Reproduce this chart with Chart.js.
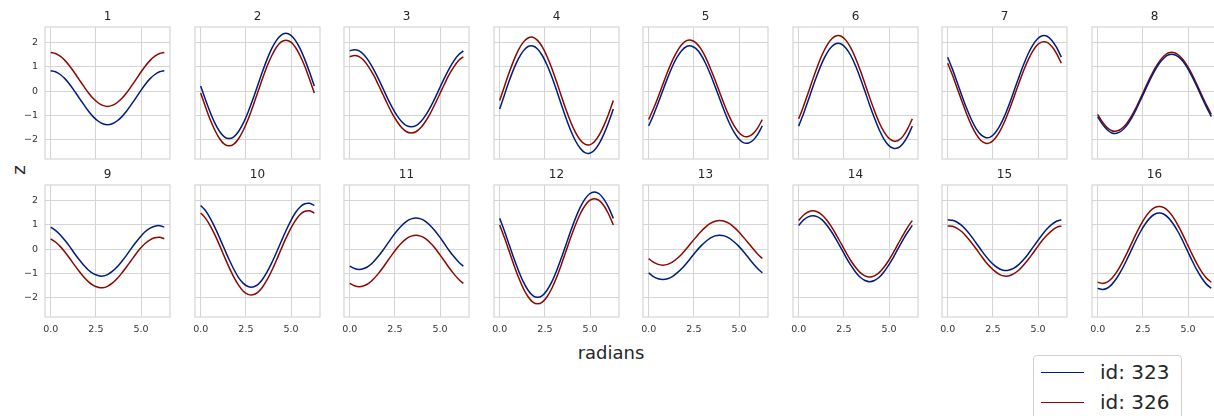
<!DOCTYPE html>
<html>
<head>
<meta charset="utf-8">
<script src="https://cdn.jsdelivr.net/npm/chart.js@4/dist/chart.umd.min.js"></script>
<style>
  html, body { margin: 0; padding: 0; background: #fff; }
  #fig { position: relative; width: 1214px; height: 416px; overflow: hidden;
         font-family: "DejaVu Sans", sans-serif; color: #262626; }
  #fig canvas { position: absolute; }
  .axis-label { position: absolute; font-size: 18px; white-space: nowrap; transform: translate(-50%, -50%); }
  #ylab { left: 18px; top: 170px; transform: translate(-50%, -50%) rotate(-90deg); }
  #xlab { left: 611px; top: 352px; }
  #legend { position: absolute; left: 1033px; top: 355px; width: 147px; height: 70px;
            border: 1px solid #d0d0d0; border-radius: 4px; background: #fff; }
  .leg-line { position: absolute; left: 7px; width: 43px; height: 0; border-top: 1.5px solid; }
  .leg-text { position: absolute; left: 66px; font-size: 20px; line-height: 24px; }
</style>
</head>
<body>
<div id="fig">
  <div class="axis-label" id="ylab">z</div>
  <div class="axis-label" id="xlab">radians</div>
  <div id="legend"></div>
</div>
<script>
// sample positions (radians), every pi/12
const RADIANS = [0, 0.262, 0.524, 0.785, 1.047, 1.309, 1.571, 1.833, 2.094, 2.356, 2.618, 2.880, 3.142,
                 3.403, 3.665, 3.927, 4.189, 4.451, 4.712, 4.974, 5.236, 5.498, 5.760, 6.021, 6.283];
const PANEL_TITLES = ['1', '2', '3', '4', '5', '6', '7', '8', '9', '10', '11', '12', '13', '14', '15', '16'];
const X_TICKS = [0, 2.5, 5];
const Y_TICKS = [-2, -1, 0, 1, 2];
const SERIES_NAMES = ['id: 323', 'id: 326'];

// z values per panel
const ID_323 = [
  [0.83, 0.79, 0.68, 0.51, 0.28, 0.01, -0.28, -0.56, -0.83, -1.06, -1.23, -1.34, -1.38, -1.34, -1.23, -1.06, -0.83, -0.56, -0.28, 0.01, 0.28, 0.51, 0.68, 0.79, 0.83],
  [0.21, -0.35, -0.87, -1.32, -1.66, -1.88, -1.95, -1.88, -1.66, -1.32, -0.87, -0.35, 0.21, 0.77, 1.29, 1.74, 2.08, 2.30, 2.37, 2.30, 2.08, 1.74, 1.29, 0.77, 0.21],
  [1.65, 1.70, 1.65, 1.49, 1.24, 0.91, 0.53, 0.12, -0.30, -0.68, -1.01, -1.26, -1.42, -1.47, -1.42, -1.26, -1.01, -0.68, -0.30, 0.12, 0.53, 0.91, 1.24, 1.49, 1.65],
  [-0.74, -0.16, 0.41, 0.92, 1.34, 1.65, 1.83, 1.85, 1.73, 1.46, 1.07, 0.59, 0.04, -0.54, -1.11, -1.62, -2.04, -2.35, -2.53, -2.55, -2.43, -2.16, -1.77, -1.29, -0.74],
  [-1.43, -0.99, -0.49, 0.03, 0.54, 1.01, 1.39, 1.67, 1.83, 1.85, 1.74, 1.50, 1.14, 0.70, 0.20, -0.32, -0.83, -1.30, -1.68, -1.96, -2.12, -2.14, -2.03, -1.79, -1.43],
  [-1.44, -0.94, -0.39, 0.18, 0.71, 1.19, 1.57, 1.83, 1.95, 1.93, 1.76, 1.46, 1.04, 0.54, -0.01, -0.58, -1.11, -1.59, -1.97, -2.23, -2.35, -2.33, -2.16, -1.86, -1.44],
  [1.39, 0.90, 0.36, -0.19, -0.71, -1.17, -1.54, -1.79, -1.91, -1.89, -1.72, -1.43, -1.03, -0.54, 0.00, 0.55, 1.07, 1.53, 1.90, 2.15, 2.27, 2.25, 2.08, 1.79, 1.39],
  [-1.05, -1.36, -1.59, -1.72, -1.73, -1.64, -1.45, -1.16, -0.80, -0.40, 0.03, 0.44, 0.82, 1.13, 1.36, 1.49, 1.50, 1.41, 1.22, 0.93, 0.57, 0.17, -0.26, -0.67, -1.05],
  [0.90, 0.77, 0.59, 0.36, 0.11, -0.17, -0.43, -0.67, -0.87, -1.01, -1.09, -1.11, -1.05, -0.92, -0.74, -0.51, -0.26, 0.02, 0.28, 0.52, 0.72, 0.86, 0.94, 0.96, 0.90],
  [1.79, 1.58, 1.27, 0.89, 0.46, 0.01, -0.43, -0.83, -1.17, -1.41, -1.54, -1.56, -1.47, -1.26, -0.95, -0.57, -0.14, 0.31, 0.75, 1.15, 1.49, 1.73, 1.86, 1.88, 1.79],
  [-0.70, -0.80, -0.84, -0.80, -0.70, -0.53, -0.31, -0.06, 0.22, 0.50, 0.75, 0.97, 1.14, 1.24, 1.28, 1.24, 1.14, 0.97, 0.75, 0.50, 0.22, -0.06, -0.31, -0.53, -0.70],
  [1.26, 0.74, 0.18, -0.38, -0.90, -1.35, -1.69, -1.91, -1.98, -1.91, -1.69, -1.35, -0.90, -0.38, 0.18, 0.74, 1.26, 1.71, 2.05, 2.27, 2.34, 2.27, 2.05, 1.71, 1.26],
  [-0.98, -1.13, -1.22, -1.25, -1.22, -1.13, -0.98, -0.80, -0.58, -0.34, -0.10, 0.12, 0.30, 0.45, 0.54, 0.57, 0.54, 0.45, 0.30, 0.12, -0.10, -0.34, -0.58, -0.80, -0.98],
  [0.97, 1.19, 1.32, 1.37, 1.32, 1.19, 0.97, 0.69, 0.37, 0.02, -0.34, -0.66, -0.94, -1.16, -1.29, -1.34, -1.29, -1.16, -0.94, -0.66, -0.34, 0.02, 0.37, 0.69, 0.97],
  [1.20, 1.18, 1.10, 0.96, 0.76, 0.52, 0.25, -0.02, -0.28, -0.51, -0.69, -0.82, -0.88, -0.86, -0.78, -0.64, -0.44, -0.20, 0.07, 0.34, 0.60, 0.83, 1.01, 1.14, 1.20],
  [-1.61, -1.66, -1.61, -1.45, -1.20, -0.88, -0.50, -0.09, 0.32, 0.70, 1.02, 1.27, 1.43, 1.48, 1.43, 1.27, 1.02, 0.70, 0.32, -0.09, -0.50, -0.88, -1.20, -1.45, -1.61]
];
const ID_326 = [
  [1.58, 1.54, 1.43, 1.26, 1.03, 0.76, 0.47, 0.19, -0.08, -0.31, -0.48, -0.59, -0.63, -0.59, -0.48, -0.31, -0.08, 0.19, 0.47, 0.76, 1.03, 1.26, 1.43, 1.54, 1.58],
  [-0.08, -0.64, -1.17, -1.61, -1.96, -2.18, -2.25, -2.18, -1.96, -1.61, -1.17, -0.64, -0.08, 0.48, 1.01, 1.45, 1.80, 2.02, 2.09, 2.02, 1.80, 1.45, 1.01, 0.48, -0.08],
  [1.41, 1.46, 1.41, 1.25, 0.99, 0.67, 0.28, -0.13, -0.54, -0.93, -1.25, -1.51, -1.67, -1.72, -1.67, -1.51, -1.25, -0.93, -0.54, -0.13, 0.28, 0.67, 0.99, 1.25, 1.41],
  [-0.39, 0.19, 0.76, 1.27, 1.70, 2.01, 2.18, 2.21, 2.08, 1.81, 1.42, 0.94, 0.39, -0.19, -0.76, -1.27, -1.70, -2.01, -2.18, -2.21, -2.08, -1.81, -1.42, -0.94, -0.39],
  [-1.17, -0.73, -0.24, 0.28, 0.79, 1.25, 1.63, 1.91, 2.07, 2.09, 1.98, 1.74, 1.39, 0.95, 0.46, -0.06, -0.57, -1.03, -1.41, -1.69, -1.85, -1.87, -1.76, -1.52, -1.17],
  [-1.14, -0.63, -0.08, 0.49, 1.03, 1.51, 1.89, 2.15, 2.27, 2.25, 2.08, 1.77, 1.36, 0.85, 0.30, -0.27, -0.81, -1.29, -1.67, -1.93, -2.05, -2.03, -1.86, -1.55, -1.14],
  [1.14, 0.66, 0.12, -0.42, -0.94, -1.40, -1.77, -2.03, -2.14, -2.12, -1.95, -1.66, -1.26, -0.78, -0.24, 0.30, 0.82, 1.28, 1.65, 1.91, 2.02, 2.00, 1.83, 1.54, 1.14],
  [-0.96, -1.27, -1.50, -1.63, -1.64, -1.55, -1.36, -1.07, -0.72, -0.31, 0.11, 0.52, 0.90, 1.21, 1.44, 1.57, 1.58, 1.49, 1.30, 1.01, 0.66, 0.25, -0.17, -0.58, -0.96],
  [0.42, 0.29, 0.11, -0.12, -0.38, -0.65, -0.91, -1.15, -1.35, -1.49, -1.57, -1.59, -1.53, -1.40, -1.22, -0.99, -0.74, -0.47, -0.20, 0.04, 0.24, 0.38, 0.46, 0.48, 0.42],
  [1.48, 1.27, 0.96, 0.58, 0.15, -0.31, -0.75, -1.15, -1.48, -1.73, -1.86, -1.88, -1.79, -1.58, -1.27, -0.89, -0.46, 0.00, 0.44, 0.84, 1.17, 1.42, 1.55, 1.57, 1.48],
  [-1.41, -1.51, -1.55, -1.51, -1.41, -1.24, -1.02, -0.77, -0.49, -0.22, 0.04, 0.26, 0.43, 0.53, 0.57, 0.53, 0.43, 0.26, 0.04, -0.22, -0.49, -0.77, -1.02, -1.24, -1.41],
  [0.99, 0.47, -0.09, -0.65, -1.17, -1.62, -1.96, -2.18, -2.25, -2.18, -1.96, -1.62, -1.17, -0.65, -0.09, 0.47, 0.99, 1.44, 1.78, 2.00, 2.07, 2.00, 1.78, 1.44, 0.99],
  [-0.39, -0.54, -0.63, -0.66, -0.63, -0.54, -0.39, -0.20, 0.02, 0.26, 0.49, 0.71, 0.90, 1.05, 1.14, 1.17, 1.14, 1.05, 0.90, 0.71, 0.49, 0.26, 0.02, -0.20, -0.39],
  [1.17, 1.39, 1.52, 1.57, 1.52, 1.39, 1.17, 0.89, 0.56, 0.21, -0.14, -0.47, -0.75, -0.97, -1.10, -1.15, -1.10, -0.97, -0.75, -0.47, -0.14, 0.21, 0.56, 0.89, 1.17],
  [0.95, 0.94, 0.85, 0.71, 0.51, 0.27, 0.01, -0.26, -0.52, -0.74, -0.92, -1.05, -1.11, -1.10, -1.01, -0.87, -0.67, -0.43, -0.17, 0.10, 0.36, 0.58, 0.76, 0.89, 0.95],
  [-1.36, -1.41, -1.36, -1.20, -0.95, -0.62, -0.24, 0.17, 0.58, 0.96, 1.29, 1.54, 1.70, 1.75, 1.70, 1.54, 1.29, 0.96, 0.58, 0.17, -0.24, -0.62, -0.95, -1.20, -1.36]
];

const COLORS = ['#001c7f', '#8c0800'];
const GRID = '#d5d5d5';
const FONT = 'DejaVu Sans';

// panel geometry (px)
const PLOT_W = 125, PLOT_H = 132;
const PAD_L = 40, PAD_R = 6, PAD_T = 27, PAD_B = 24;
const COL_X0 = 45, COL_STEP = 149.5;
const ROW_Y = [27, 185];

const minus = v => (v < 0 ? '\u2212' + Math.abs(v) : String(v));

// spines on all four sides
const frame = {
    id: 'frame',
    afterDatasetsDraw(chart) {
        const a = chart.chartArea, ctx = chart.ctx;
        ctx.save();
        ctx.strokeStyle = GRID;
        ctx.lineWidth = 1.2;
        ctx.strokeRect(a.left, a.top, a.right - a.left, a.bottom - a.top);
        ctx.restore();
    }
};

const fig = document.getElementById('fig');

PANEL_TITLES.forEach((title, i) => {
    const col = i % 8, row = Math.floor(i / 8);
    const canvas = document.createElement('canvas');
    canvas.width = PAD_L + PLOT_W + PAD_R;
    canvas.height = PAD_T + PLOT_H + PAD_B;
    canvas.style.left = (COL_X0 + col * COL_STEP - PAD_L) + 'px';
    canvas.style.top = (ROW_Y[row] - PAD_T) + 'px';
    fig.appendChild(canvas);

    const series = [ID_323[i], ID_326[i]];
    new Chart(canvas, {
        type: 'line',
        data: {
            datasets: series.map((vals, s) => ({
                label: SERIES_NAMES[s],
                data: RADIANS.map((x, k) => ({ x: x, y: vals[k] })),
                borderColor: COLORS[s],
                borderWidth: 1.5,
                pointRadius: 0,
                tension: 0.3,
                fill: false
            }))
        },
        options: {
            responsive: false,
            devicePixelRatio: 1,
            animation: false,
            layout: { padding: { top: 0, right: PAD_R, bottom: 0, left: 0 } },
            plugins: {
                legend: { display: false },
                tooltip: { enabled: false },
                title: {
                    display: true,
                    fullSize: false,   // centre over the plot area, not the canvas
                    text: title,
                    color: '#262626',
                    font: { family: FONT, size: 12, weight: 'normal' },
                    padding: { top: 10, bottom: 2.6 }
                }
            },
            scales: {
                x: {
                    type: 'linear',
                    min: -0.314,
                    max: 6.597,
                    afterBuildTicks: s => { s.ticks = X_TICKS.map(v => ({ value: v })); },
                    afterFit: s => { s.height = PAD_B; },
                    grid: { color: GRID, lineWidth: 1, drawTicks: false },
                    border: { display: false },
                    ticks: {
                        display: row === 1,
                        padding: 7,
                        maxRotation: 0,
                        autoSkip: false,
                        color: '#333',
                        font: { family: FONT, size: 9.5 },
                        callback: v => v.toFixed(1)
                    }
                },
                y: {
                    min: -2.79,
                    max: 2.63,
                    afterBuildTicks: s => { s.ticks = Y_TICKS.map(v => ({ value: v })); },
                    afterFit: s => { s.width = PAD_L; },
                    grid: { color: GRID, lineWidth: 1, drawTicks: false },
                    border: { display: false },
                    ticks: {
                        display: col === 0,
                        padding: 7,
                        color: '#333',
                        font: { family: FONT, size: 9.5 },
                        callback: v => minus(v)
                    }
                }
            }
        },
        plugins: [frame]
    });
});

// legend
const legend = document.getElementById('legend');
SERIES_NAMES.forEach((name, s) => {
    const line = document.createElement('div');
    line.className = 'leg-line';
    line.style.borderTopColor = COLORS[s];
    line.style.top = (16 + s * 30) + 'px';
    legend.appendChild(line);
    const txt = document.createElement('div');
    txt.className = 'leg-text';
    txt.style.top = (4 + s * 30) + 'px';
    txt.textContent = name;
    legend.appendChild(txt);
});
</script>
</body>
</html>
